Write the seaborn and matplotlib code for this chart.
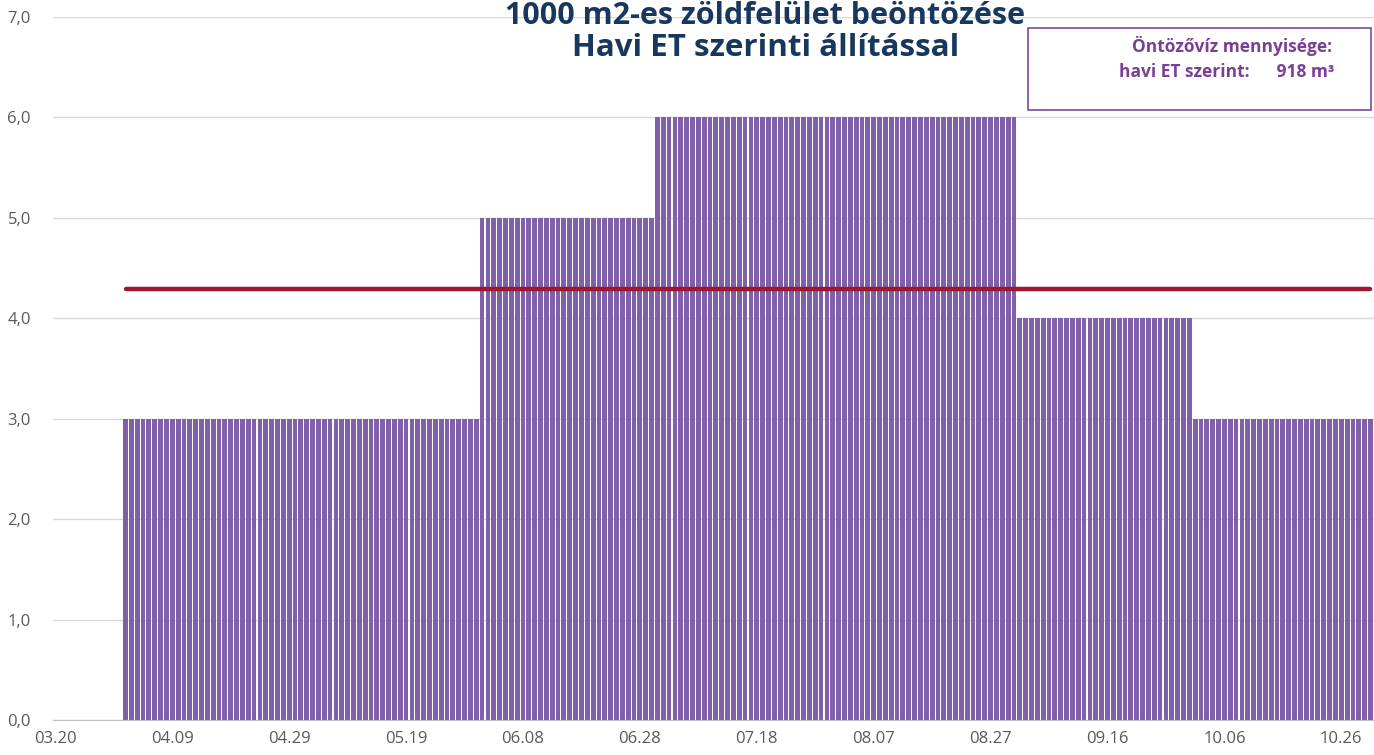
import numpy as np
import pandas as pd
import matplotlib
matplotlib.use('Agg')
import matplotlib.pyplot as plt
import seaborn as sns
from matplotlib.patches import Rectangle

# monthly irrigation (mm/day), Apr..Oct
MONTHS = ['04', '05', '06', '07', '08', '09', '10']
MONTH_DAYS = [30, 31, 30, 31, 31, 30, 31]
MONTH_VALUES = [3.0, 3.0, 5.0, 6.0, 6.0, 4.0, 3.0]
FIRST_DAY = 12          # 04.01 counted from 03.20
TOTAL_M3 = 918
TICK_LABELS = ['03.20', '04.09', '04.29', '05.19', '06.08', '06.28',
               '07.18', '08.07', '08.27', '09.16', '10.06', '10.26']

PURPLE = '#8060A8'
RED = '#A0162C'
NAVY = '#17375E'
GREY = '#595959'


def main():
    sns.set_style('white')
    plt.rcParams['font.family'] = ['Open Sans', 'DejaVu Sans']

    daily = np.repeat(MONTH_VALUES, MONTH_DAYS)
    df = pd.DataFrame({'day': np.arange(FIRST_DAY, FIRST_DAY + len(daily)),
                       'value': daily})
    df['avg'] = TOTAL_M3 / len(daily)

    fig = plt.figure(figsize=(13.74, 7.55), dpi=100)
    ax = fig.add_axes([0.0386, 0.046, 0.9614, 0.9315])

    sns.barplot(data=df, x='day', y='value', native_scale=True, width=0.82,
                color=PURPLE, saturation=1, linewidth=0, ax=ax, zorder=2)
    sns.lineplot(data=df, x='day', y='avg', color=RED, linewidth=3.2,
                 ax=ax, zorder=3)

    ax.set_xlim(-0.4, 225.6)
    ax.set_ylim(0, 7)
    ax.set_yticks(np.arange(0, 7.5, 1))
    ax.set_yticklabels([f'{v:.1f}'.replace('.', ',') for v in np.arange(0, 7.5, 1)])
    ax.set_xticks(np.arange(len(TICK_LABELS)) * 20)
    ax.set_xticklabels(TICK_LABELS)
    ax.set_xlabel('')
    ax.set_ylabel('')
    ax.grid(axis='y', color='#D9D9D9', linewidth=1, zorder=0)
    ax.set_axisbelow(True)
    for side in ['top', 'right', 'left']:
        ax.spines[side].set_visible(False)
    ax.spines['bottom'].set_color('#BFBFBF')
    ax.tick_params(axis='x', colors=GREY, labelsize=12, length=5,
                   color='#BFBFBF', pad=3)
    ax.tick_params(axis='y', colors=GREY, labelsize=12, length=0, pad=16)

    fig.text(0.557, 0.999, '1000 m2-es zöldfelület beöntözése', ha='center',
             va='top', fontsize=22, fontweight='bold', color=NAVY)
    fig.text(0.557, 0.937, 'Havi ET szerinti állítással', ha='center',
             va='center', fontsize=22.5, fontweight='bold', color=NAVY)

    fig.patches.append(Rectangle((0.748, 0.854), 0.25, 0.109,
                                 transform=fig.transFigure, fill=True,
                                 facecolor='white', edgecolor='#7B4A9E',
                                 linewidth=1.2, zorder=5))
    fig.text(0.897, 0.939, 'Öntözővíz mennyisége:', ha='center', va='center',
             fontsize=12.5, fontweight='bold', color='#7B3F98', zorder=6)
    fig.text(0.893, 0.904, f'havi ET szerint:      {TOTAL_M3} m³', ha='center',
             va='center', fontsize=12.5, fontweight='bold', color='#7B3F98',
             zorder=6)

    fig.savefig('out.png', dpi=100)


if __name__ == '__main__':
    main()
